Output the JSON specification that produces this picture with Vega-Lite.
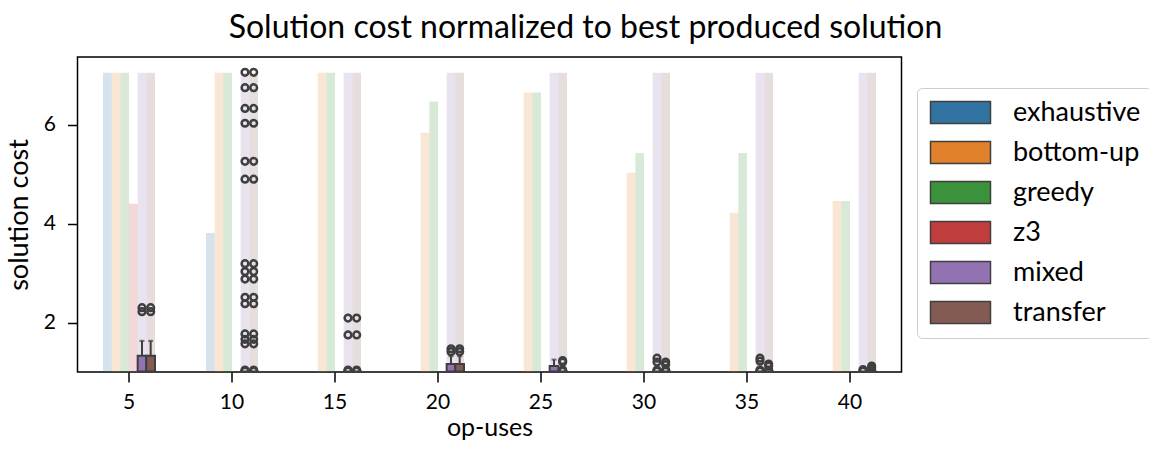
{
  "$schema": "https://vega.github.io/schema/vega-lite/v6.json",
  "width": 824,
  "height": 315,
  "autosize": {"type": "none"},
  "padding": {"left": 77.5, "top": 57, "right": 247.5, "bottom": 79},
  "background": "white",
  "config": {
    "font": "Lato",
    "view": {"stroke": "black", "strokeWidth": 1.5},
    "axis": {
      "grid": false,
      "domain": false,
      "tickColor": "black",
      "tickWidth": 1.5,
      "tickSize": 10,
      "labelColor": "black",
      "titleColor": "black",
      "labelFontSize": 21,
      "titleFontSize": 25,
      "titleFontWeight": "normal",
      "labelPadding": 6
    }
  },
  "title": {
    "text": "Solution cost normalized to best produced solution",
    "fontSize": 32,
    "fontWeight": "normal",
    "color": "black",
    "dx": 96,
    "offset": 12
  },
  "datasets": {
    "bars": [
      {"op": 5, "method": "exhaustive", "v": 7.05},
      {"op": 5, "method": "bottom-up", "v": 7.05},
      {"op": 5, "method": "greedy", "v": 7.05},
      {"op": 5, "method": "z3", "v": 4.40},
      {"op": 5, "method": "mixed", "v": 7.05},
      {"op": 5, "method": "transfer", "v": 7.05},
      {"op": 10, "method": "exhaustive", "v": 3.81},
      {"op": 10, "method": "bottom-up", "v": 7.05},
      {"op": 10, "method": "greedy", "v": 7.05},
      {"op": 10, "method": "mixed", "v": 7.05},
      {"op": 10, "method": "transfer", "v": 7.05},
      {"op": 15, "method": "bottom-up", "v": 7.05},
      {"op": 15, "method": "greedy", "v": 7.05},
      {"op": 15, "method": "mixed", "v": 7.05},
      {"op": 15, "method": "transfer", "v": 7.05},
      {"op": 20, "method": "bottom-up", "v": 5.84},
      {"op": 20, "method": "greedy", "v": 6.47},
      {"op": 20, "method": "mixed", "v": 7.05},
      {"op": 20, "method": "transfer", "v": 7.05},
      {"op": 25, "method": "bottom-up", "v": 6.65},
      {"op": 25, "method": "greedy", "v": 6.65},
      {"op": 25, "method": "mixed", "v": 7.05},
      {"op": 25, "method": "transfer", "v": 7.05},
      {"op": 30, "method": "bottom-up", "v": 5.03},
      {"op": 30, "method": "greedy", "v": 5.43},
      {"op": 30, "method": "mixed", "v": 7.05},
      {"op": 30, "method": "transfer", "v": 7.05},
      {"op": 35, "method": "bottom-up", "v": 4.22},
      {"op": 35, "method": "greedy", "v": 5.43},
      {"op": 35, "method": "mixed", "v": 7.05},
      {"op": 35, "method": "transfer", "v": 7.05},
      {"op": 40, "method": "bottom-up", "v": 4.46},
      {"op": 40, "method": "greedy", "v": 4.46},
      {"op": 40, "method": "mixed", "v": 7.05},
      {"op": 40, "method": "transfer", "v": 7.05}
    ],
    "boxes": [
      {"op": 5, "method": "mixed", "lo": 1, "q1": 1, "med": 1, "q3": 1.33, "hi": 1.63},
      {"op": 5, "method": "transfer", "lo": 1, "q1": 1, "med": 1, "q3": 1.33, "hi": 1.63},
      {"op": 10, "method": "mixed", "lo": 1, "q1": 1, "med": 1, "q3": 1, "hi": 1},
      {"op": 10, "method": "transfer", "lo": 1, "q1": 1, "med": 1, "q3": 1, "hi": 1},
      {"op": 15, "method": "mixed", "lo": 1, "q1": 1, "med": 1, "q3": 1, "hi": 1},
      {"op": 15, "method": "transfer", "lo": 1, "q1": 1, "med": 1, "q3": 1, "hi": 1},
      {"op": 20, "method": "mixed", "lo": 1, "q1": 1, "med": 1, "q3": 1.16, "hi": 1.32},
      {"op": 20, "method": "transfer", "lo": 1, "q1": 1, "med": 1, "q3": 1.16, "hi": 1.32},
      {"op": 25, "method": "mixed", "lo": 1, "q1": 1, "med": 1, "q3": 1.12, "hi": 1.25},
      {"op": 25, "method": "transfer", "lo": 1, "q1": 1, "med": 1, "q3": 1.0, "hi": 1.0},
      {"op": 30, "method": "mixed", "lo": 1, "q1": 1, "med": 1, "q3": 1, "hi": 1},
      {"op": 30, "method": "transfer", "lo": 1, "q1": 1, "med": 1, "q3": 1, "hi": 1},
      {"op": 35, "method": "mixed", "lo": 1, "q1": 1, "med": 1, "q3": 1, "hi": 1},
      {"op": 35, "method": "transfer", "lo": 1, "q1": 1, "med": 1, "q3": 1, "hi": 1},
      {"op": 40, "method": "mixed", "lo": 1, "q1": 1, "med": 1, "q3": 1, "hi": 1},
      {"op": 40, "method": "transfer", "lo": 1, "q1": 1, "med": 1, "q3": 1, "hi": 1}
    ],
    "outliers": [
      {"op": 5, "method": "mixed", "v": 2.22},
      {"op": 5, "method": "mixed", "v": 2.30},
      {"op": 5, "method": "transfer", "v": 2.22},
      {"op": 5, "method": "transfer", "v": 2.30},
      {"op": 10, "method": "mixed", "v": 7.06},
      {"op": 10, "method": "mixed", "v": 6.75},
      {"op": 10, "method": "mixed", "v": 6.33},
      {"op": 10, "method": "mixed", "v": 6.03},
      {"op": 10, "method": "mixed", "v": 5.26},
      {"op": 10, "method": "mixed", "v": 4.90},
      {"op": 10, "method": "mixed", "v": 3.19},
      {"op": 10, "method": "mixed", "v": 3.03},
      {"op": 10, "method": "mixed", "v": 2.88},
      {"op": 10, "method": "mixed", "v": 2.51},
      {"op": 10, "method": "mixed", "v": 2.38},
      {"op": 10, "method": "mixed", "v": 1.77},
      {"op": 10, "method": "mixed", "v": 1.66},
      {"op": 10, "method": "mixed", "v": 1.57},
      {"op": 10, "method": "mixed", "v": 1.02},
      {"op": 10, "method": "mixed", "v": 1.04},
      {"op": 10, "method": "transfer", "v": 7.06},
      {"op": 10, "method": "transfer", "v": 6.75},
      {"op": 10, "method": "transfer", "v": 6.33},
      {"op": 10, "method": "transfer", "v": 6.03},
      {"op": 10, "method": "transfer", "v": 5.26},
      {"op": 10, "method": "transfer", "v": 4.90},
      {"op": 10, "method": "transfer", "v": 3.19},
      {"op": 10, "method": "transfer", "v": 3.03},
      {"op": 10, "method": "transfer", "v": 2.88},
      {"op": 10, "method": "transfer", "v": 2.51},
      {"op": 10, "method": "transfer", "v": 2.38},
      {"op": 10, "method": "transfer", "v": 1.77},
      {"op": 10, "method": "transfer", "v": 1.66},
      {"op": 10, "method": "transfer", "v": 1.57},
      {"op": 10, "method": "transfer", "v": 1.02},
      {"op": 10, "method": "transfer", "v": 1.04},
      {"op": 15, "method": "mixed", "v": 2.09},
      {"op": 15, "method": "mixed", "v": 1.75},
      {"op": 15, "method": "mixed", "v": 1.02},
      {"op": 15, "method": "mixed", "v": 1.04},
      {"op": 15, "method": "transfer", "v": 2.09},
      {"op": 15, "method": "transfer", "v": 1.75},
      {"op": 15, "method": "transfer", "v": 1.02},
      {"op": 15, "method": "transfer", "v": 1.04},
      {"op": 20, "method": "mixed", "v": 1.47},
      {"op": 20, "method": "mixed", "v": 1.41},
      {"op": 20, "method": "transfer", "v": 1.47},
      {"op": 20, "method": "transfer", "v": 1.41},
      {"op": 25, "method": "transfer", "v": 1.20},
      {"op": 25, "method": "transfer", "v": 1.23},
      {"op": 25, "method": "transfer", "v": 1.04},
      {"op": 25, "method": "transfer", "v": 1.02},
      {"op": 30, "method": "mixed", "v": 1.28},
      {"op": 30, "method": "mixed", "v": 1.20},
      {"op": 30, "method": "mixed", "v": 1.04},
      {"op": 30, "method": "mixed", "v": 1.02},
      {"op": 30, "method": "transfer", "v": 1.20},
      {"op": 30, "method": "transfer", "v": 1.15},
      {"op": 30, "method": "transfer", "v": 1.04},
      {"op": 30, "method": "transfer", "v": 1.02},
      {"op": 35, "method": "mixed", "v": 1.28},
      {"op": 35, "method": "mixed", "v": 1.22},
      {"op": 35, "method": "mixed", "v": 1.04},
      {"op": 35, "method": "mixed", "v": 1.02},
      {"op": 35, "method": "transfer", "v": 1.16},
      {"op": 35, "method": "transfer", "v": 1.12},
      {"op": 35, "method": "transfer", "v": 1.04},
      {"op": 35, "method": "transfer", "v": 1.02},
      {"op": 40, "method": "mixed", "v": 1.05},
      {"op": 40, "method": "mixed", "v": 1.02},
      {"op": 40, "method": "transfer", "v": 1.12},
      {"op": 40, "method": "transfer", "v": 1.08},
      {"op": 40, "method": "transfer", "v": 1.03}
    ]
  },
  "encoding": {
    "x": {
      "field": "op",
      "type": "ordinal",
      "scale": {"domain": [5, 10, 15, 20, 25, 30, 35, 40], "paddingInner": 0.495, "paddingOuter": 0.2475},
      "axis": {"title": "op-uses", "labelAngle": 0, "labelPadding": 9, "titlePadding": 3}
    },
    "xOffset": {
      "field": "method",
      "type": "nominal",
      "scale": {"domain": ["exhaustive", "bottom-up", "greedy", "z3", "mixed", "transfer"], "paddingInner": 0, "paddingOuter": 0}
    }
  },
  "layer": [
    {
      "data": {"name": "bars"},
      "mark": {"type": "bar", "opacity": 0.2},
      "encoding": {
        "y": {
          "field": "v",
          "type": "quantitative",
          "scale": {"domain": [1, 7.37], "nice": false, "zero": false},
          "axis": {"title": "solution cost", "values": [2, 4, 6], "labelPadding": 12, "titlePadding": 10, "titleFontSize": 27}
        },
        "y2": {"datum": 1},
        "fill": {
          "field": "method",
          "type": "nominal",
          "scale": {
            "domain": ["exhaustive", "bottom-up", "greedy", "z3", "mixed", "transfer"],
            "range": ["#3274a1", "#e1812c", "#3a923a", "#c03d3e", "#9372b2", "#845b53"]
          },
          "legend": {
            "title": null,
            "orient": "none",
            "legendX": 839.5,
            "legendY": 31,
            "symbolType": "M-1,-1H4.454V1H-1Z",
            "symbolSize": 484,
            "symbolStrokeColor": "#3f3f3f",
            "symbolStrokeWidth": 1.5,
            "symbolOpacity": 1,
            "labelFontSize": 27,
            "labelColor": "black",
            "labelOffset": 58,
            "rowPadding": 11,
            "padding": 11,
            "strokeColor": "#cccccc",
            "fillColor": "white",
            "cornerRadius": 5
          }
        }
      }
    },
    {
      "data": {"name": "boxes"},
      "mark": {"type": "bar", "stroke": "#3f3f3f", "strokeWidth": 2},
      "encoding": {
        "y": {"field": "q1", "type": "quantitative"},
        "y2": {"field": "q3"},
        "fill": {"field": "method", "type": "nominal"}
      }
    },
    {
      "data": {"name": "boxes"},
      "transform": [{"filter": "datum.hi > datum.q3"}],
      "mark": {"type": "rule", "color": "#3f3f3f", "strokeWidth": 2},
      "encoding": {
        "y": {"field": "q3", "type": "quantitative"},
        "y2": {"field": "hi"}
      }
    },
    {
      "data": {"name": "boxes"},
      "transform": [{"filter": "datum.hi > datum.q3"}],
      "mark": {"type": "tick", "color": "#3f3f3f", "size": 5, "thickness": 2, "orient": "horizontal"},
      "encoding": {
        "y": {"field": "hi", "type": "quantitative"}
      }
    },
    {
      "data": {"name": "boxes"},
      "mark": {"type": "tick", "color": "#3f3f3f", "size": 10, "thickness": 3.5, "orient": "horizontal", "clip": true},
      "encoding": {
        "y": {"field": "med", "type": "quantitative"}
      }
    },
    {
      "data": {"name": "outliers"},
      "mark": {"type": "point", "filled": false, "stroke": "#3f3f3f", "strokeWidth": 2.5, "size": 45, "opacity": 1, "clip": true},
      "encoding": {
        "y": {"field": "v", "type": "quantitative"}
      }
    }
  ]
}
